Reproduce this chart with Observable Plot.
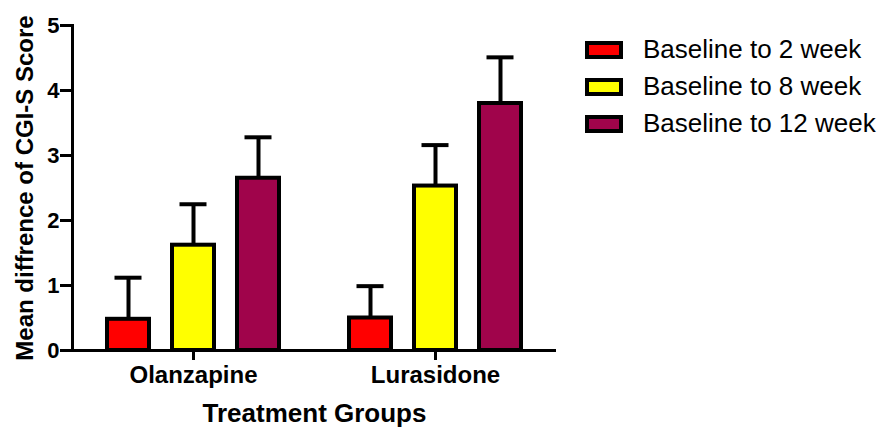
<!DOCTYPE html>
<html>
<head>
<meta charset="utf-8">
<script src="https://cdn.jsdelivr.net/npm/d3@7"></script>
<script src="https://cdn.jsdelivr.net/npm/@observablehq/plot@0.6"></script>
<style>
  html, body { margin: 0; padding: 0; background: white; }
  #wrap { position: relative; width: 878px; height: 427px; }
  #legend { position: absolute; left: 585px; top: 31px; font-family: 'Liberation Sans', Arial, sans-serif; font-size: 26px; color: black; }
  .row { display: flex; align-items: center; height: 37px; }
  .sw { width: 38px; height: 18px; box-sizing: border-box; border: 4px solid black; margin-right: 20px; }
</style>
</head>
<body>
<div id="wrap"><div id="legend"></div></div>
<script>
const groups = ["Olanzapine", "Lurasidone"];
const series = ["Baseline to 2 week", "Baseline to 8 week", "Baseline to 12 week"];
const olanzapineMean = [0.48, 1.62, 2.65];
const olanzapineUpper = [1.12, 2.25, 3.28];
const lurasidoneMean = [0.50, 2.53, 3.80];
const lurasidoneUpper = [0.99, 3.16, 4.51];
const colors = ["#FF0000", "#FFFF00", "#A0044B"];
const yTicks = [0, 1, 2, 3, 4, 5];
const yTitle = "Mean diffrence of CGI-S Score";
const xTitle = "Treatment Groups";

const means = [olanzapineMean, lurasidoneMean];
const uppers = [olanzapineUpper, lurasidoneUpper];
const rows = [];
groups.forEach((g, gi) => series.forEach((s, si) => rows.push({group: g, series: s, value: means[gi][si], upper: uppers[gi][si]})));

const chart = Plot.plot({
  width: 878, height: 427,
  marginLeft: 72, marginRight: 322, marginTop: 25, marginBottom: 77,
  style: {fontFamily: "'Liberation Sans', Arial, sans-serif", fontWeight: "bold", color: "black", background: "white"},
  fx: {domain: groups, padding: 0},
  x: {domain: series, paddingInner: 0.36, paddingOuter: 0.53, axis: null},
  y: {domain: [0, 5]},
  color: {domain: series, range: colors},
  marks: [
    Plot.ruleX(rows, {fx: "group", x: "series", y1: "value", y2: "upper", strokeWidth: 4, stroke: "black"}),
    Plot.tickY(rows, {fx: "group", x: "series", y: "upper", strokeWidth: 4, stroke: "black", insetLeft: 7.5, insetRight: 7.5}),
    Plot.barY(rows, {fx: "group", x: "series", y: "value", fill: "series", stroke: "black", strokeWidth: 4}),
    Plot.ruleY([0], {strokeWidth: 3, stroke: "black"}),
    Plot.frame({anchor: "left", facetAnchor: "left", strokeWidth: 3, stroke: "black"}),
    Plot.axisY(yTicks, {tickFormat: d => String(d), tickSize: 12, tickPadding: 1, stroke: "black", strokeWidth: 3, fontSize: 22, fill: "black", label: null}),
    Plot.axisY({ticks: [], tickSize: 0, label: yTitle, labelAnchor: "center", labelArrow: false, labelOffset: 57, fontSize: 24}),
    Plot.axisFx({anchor: "bottom", tickSize: 10, tickPadding: 5, stroke: "black", strokeWidth: 3, fontSize: 24, label: null}),
    Plot.axisFx({anchor: "bottom", ticks: [], tickSize: 0, label: xTitle, labelAnchor: "center", labelArrow: false, labelOffset: 71, fontSize: 26})
  ]
});
document.getElementById("wrap").prepend(chart);

const legend = document.getElementById("legend");
series.forEach((s, i) => {
  const row = document.createElement("div");
  row.className = "row";
  const sw = document.createElement("div");
  sw.className = "sw";
  sw.style.background = colors[i];
  const t = document.createElement("span");
  t.textContent = s;
  row.append(sw, t);
  legend.append(row);
});
</script>
</body>
</html>
